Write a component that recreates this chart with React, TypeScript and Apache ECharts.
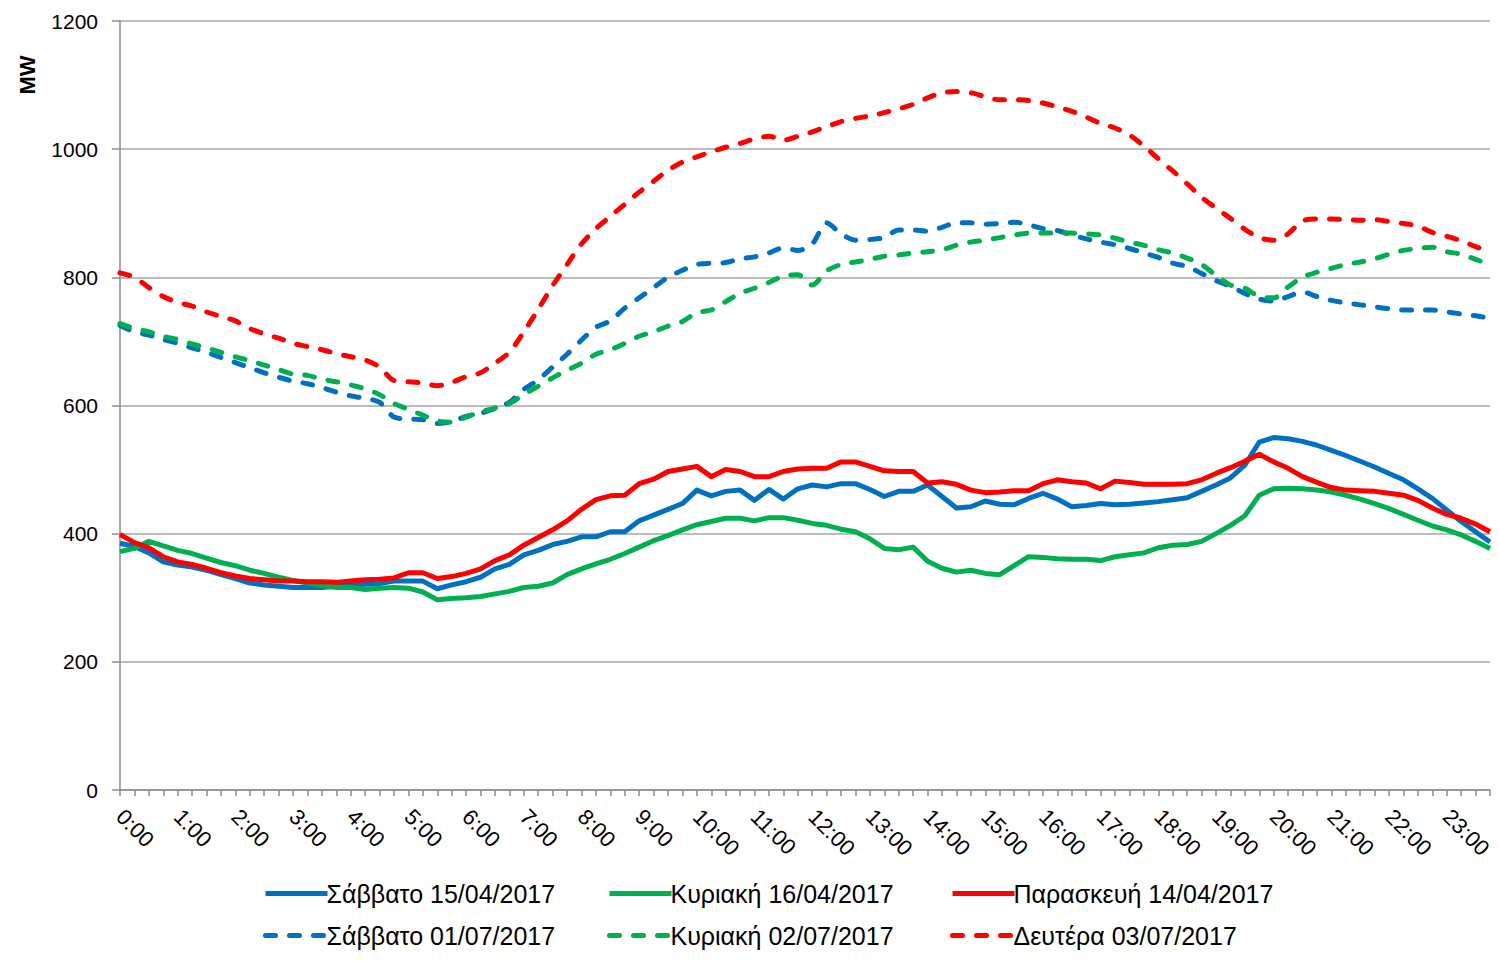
import React, { useEffect, useRef } from "react";
import * as echarts from "echarts";

const times: string[] = Array.from({ length: 96 }, (_, i) => `${Math.floor(i / 4)}:${String((i % 4) * 15).padStart(2, "0")}`);

const yTicks = [0, 200, 400, 600, 800, 1000, 1200];

const names = [
  "Σάββατο 15/04/2017",
  "Κυριακή 16/04/2017",
  "Παρασκευή 14/04/2017",
  "Σάββατο 01/07/2017",
  "Κυριακή 02/07/2017",
  "Δευτέρα 03/07/2017",
];

const blueSolid = [
  385, 380, 370, 356, 351, 348, 343, 336, 330, 323, 320, 318, 316, 316, 316, 318, 320, 321, 322, 326, 326, 326, 314, 320, 325, 332, 345,
  352, 367, 374, 383, 388, 395, 395, 403, 403, 420, 429, 438, 447, 468, 459, 466, 468, 452, 469, 454, 470, 476, 473, 478, 478, 469,
  458, 466, 466, 476, 458, 440, 442, 451, 446, 445, 455, 463, 454, 442, 444, 447, 445, 446, 448, 450, 453, 456, 466, 476, 487, 507,
  543, 550, 548, 544, 538, 530, 522, 513, 504, 494, 484, 470, 455, 437, 419, 403, 387,
];

const greenSolid = [
  372, 377, 388, 381, 374, 369, 362, 355, 350, 343, 338, 332, 327, 323, 319, 316, 316, 313, 315, 316, 315, 309, 297, 299, 300, 302, 306,
  310, 316, 318, 323, 336, 345, 353, 360, 369, 379, 389, 397, 406, 414, 419, 424, 424, 420, 425, 425, 421, 416, 413, 407, 403, 392,
  377, 375, 379, 357, 346, 340, 343, 338, 336, 350, 364, 363, 361, 360, 360, 358, 364, 367, 370, 378, 382, 383, 388, 400, 413, 428,
  460, 470, 471, 470, 468, 465, 460, 454, 447, 439, 430, 421, 412, 406, 398, 388, 377,
];

const redSolid = [
  399, 386, 378, 364, 356, 352, 346, 339, 334, 330, 328, 326, 326, 325, 325, 324, 326, 328, 329, 331, 339, 339, 330, 333, 338, 345, 358,
  367, 382, 394, 406, 420, 438, 453, 459, 460, 478, 485, 497, 501, 505, 489, 500, 497, 489, 489, 497, 501, 502, 502, 512, 512, 505,
  498, 497, 497, 479, 481, 477, 468, 464, 465, 467, 467, 478, 484, 481, 479, 470, 482, 480, 477, 477, 477, 478, 484, 494, 503, 513,
  524, 512, 502, 489, 480, 472, 468, 467, 466, 463, 460, 452, 440, 430, 424, 415, 403,
];

const blueDashed = [
  725, 715, 710, 703, 697, 690, 683, 675, 667, 659, 651, 644, 638, 634, 628, 621, 615, 611, 605, 582, 579, 578, 572, 575, 583, 588, 595,
  605, 625, 640, 660, 680, 702, 722, 732, 752, 768, 784, 800, 811, 820, 822, 823, 829, 832, 838, 846, 842, 852, 885, 868, 858, 859,
  862, 874, 874, 872, 878, 885, 885, 883, 884, 886, 882, 876, 873, 866, 860, 855, 851, 845, 838, 831, 822, 817, 806, 795, 786, 775,
  766, 763, 770, 777, 770, 764, 760, 757, 754, 751, 749, 749, 749, 746, 743, 740, 736,
];

const greenDashed = [
  728, 720, 715, 708, 703, 696, 690, 683, 676, 670, 663, 656, 649, 647, 641, 637, 632, 626, 617, 603, 594, 585, 576, 574, 582, 590, 596,
  603, 617, 630, 643, 655, 666, 680, 687, 697, 708, 715, 724, 731, 745, 749, 762, 775, 783, 792, 802, 804, 788, 810, 820, 824, 828,
  833, 835, 838, 840, 843, 850, 855, 858, 862, 866, 869, 869, 869, 869, 868, 866, 861, 855, 850, 843, 838, 830, 820, 803, 788, 783,
  770, 768, 785, 800, 808, 814, 820, 824, 829, 836, 842, 845, 847, 840, 836, 828, 820,
];

const redDashed = [
  807, 800, 784, 770, 761, 755, 746, 739, 732, 720, 712, 705, 697, 692, 687, 681, 676, 671, 660, 639, 637, 635, 631, 636, 645, 651, 666,
  683, 715, 750, 787, 820, 852, 876, 895, 914, 933, 950, 967, 980, 988, 996, 1003, 1009, 1016, 1020, 1014, 1020, 1027, 1035, 1043, 1048, 1052,
  1057, 1063, 1070, 1080, 1088, 1090, 1088, 1082, 1077, 1077, 1076, 1072, 1066, 1059, 1050, 1040, 1033, 1022, 1005, 985, 966, 946, 925, 908, 892, 875,
  862, 858, 868, 888, 891, 891, 890, 889, 890, 887, 884, 880, 870, 864, 857, 848, 840,
];

const seriesData = [blueSolid, greenSolid, redSolid, blueDashed, greenDashed, redDashed];
const colors = ["#0070C0", "#00B050", "#FF0000", "#0070C0", "#00B050", "#FF0000"];
const dashed = [false, false, false, true, true, true];

const legendPos = [
  { left: 263, top: 881 },
  { left: 607, top: 881 },
  { left: 950, top: 881 },
  { left: 263, top: 923 },
  { left: 607, top: 923 },
  { left: 950, top: 923 },
];

const FONT = "Liberation Sans, Arial, sans-serif";

export default function App() {
  const ref = useRef<HTMLDivElement>(null);
  useEffect(() => {
    if (!ref.current) return;
    const chart = echarts.init(ref.current, null, { renderer: "svg" });
    const option: any = {
      animation: false,
      backgroundColor: "#fff",
      grid: { left: 120, right: 9, top: 21, bottom: 171, containLabel: false },
      xAxis: {
        type: "category",
        data: times,
        boundaryGap: false,
        axisLine: { lineStyle: { color: "#8c8c8c", width: 1.5 } },
        axisTick: { show: true, interval: 0, length: 6, lineStyle: { color: "#8c8c8c", width: 1.5 } },
        axisLabel: {
          interval: 3,
          rotate: -45,
          margin: 23,
          fontSize: 22,
          color: "#000",
          fontFamily: FONT,
        },
        splitLine: { show: false },
      },
      yAxis: {
        type: "value",
        min: yTicks[0],
        max: yTicks[yTicks.length - 1],
        interval: 200,
        axisLine: { show: true, lineStyle: { color: "#8c8c8c", width: 1.5 } },
        axisTick: { show: true, length: 8, lineStyle: { color: "#8c8c8c", width: 1.5 } },
        axisLabel: {
          margin: 22,
          fontSize: 21,
          color: "#000",
          fontFamily: FONT,
          formatter: (v: number) => String(v),
        },
        splitLine: { show: true, lineStyle: { color: "#a6a6a6", width: 1.5 } },
      },
      legend: names.map((n, i) => ({
        data: [n],
        left: legendPos[i].left,
        top: legendPos[i].top,
        padding: 0,
        itemWidth: 62,
        itemHeight: 14,
        itemStyle: { color: "rgba(0,0,0,0)", borderWidth: 0, opacity: 0 },
        lineStyle: { width: 5, cap: dashed[i] ? "round" : "butt" },
        textStyle: { fontSize: 25, color: "#000", fontFamily: FONT, padding: [0, 0, 0, -6] },
      })),
      graphic: [
        {
          type: "text",
          x: 27,
          y: 75,
          rotation: Math.PI / 2,
          style: {
            text: "MW",
            fontSize: 22,
            fontWeight: "bold",
            fontFamily: FONT,
            fill: "#000",
            align: "center",
            verticalAlign: "middle",
          },
        },
      ],
      series: names.map((n, i) => ({
        name: n,
        type: "line",
        data: seriesData[i],
        symbol: "none",
        showSymbol: false,
        smooth: dashed[i] ? 0.3 : false,
        lineStyle: {
          color: colors[i],
          width: 5,
          type: dashed[i] ? [10, 14] : "solid",
          cap: dashed[i] ? "round" : "butt",
          join: "round",
        },
        itemStyle: { color: colors[i] },
        emphasis: { disabled: true },
      })),
    };
    chart.setOption(option);
    return () => chart.dispose();
  }, []);
  return <div ref={ref} style={{ position: "fixed", left: 0, top: 0, width: 1499, height: 961 }} />;
}
